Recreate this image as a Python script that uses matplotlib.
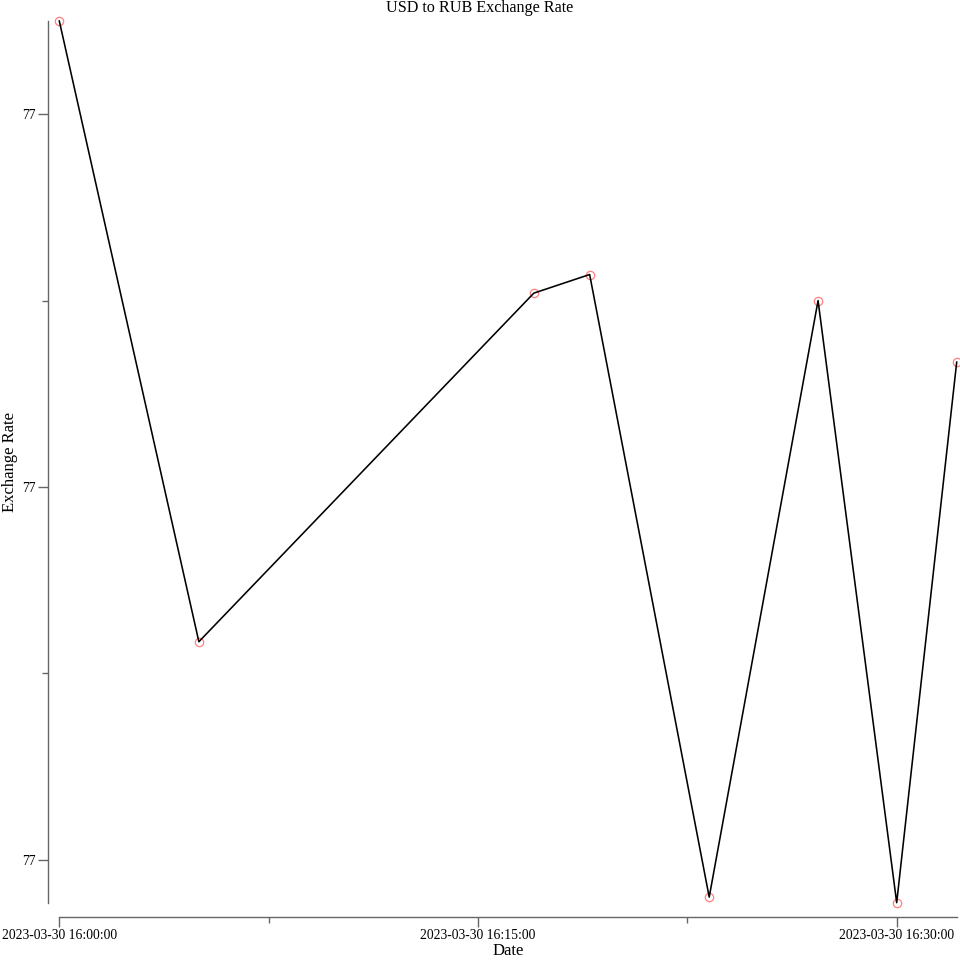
import matplotlib
matplotlib.use("Agg")
import matplotlib.pyplot as plt
import matplotlib.dates as mdates
from matplotlib.ticker import FixedLocator, FuncFormatter
import pandas as pd

times = ["2023-03-30 16:00:00", "2023-03-30 16:05:00", "2023-03-30 16:17:00",
         "2023-03-30 16:19:00", "2023-03-30 16:23:17", "2023-03-30 16:27:11",
         "2023-03-30 16:30:00", "2023-03-30 16:32:09"]
rates = [77.4250, 77.3917, 77.4104, 77.4114, 77.3780, 77.4100, 77.3777, 77.4067]
x_major = ["2023-03-30 16:00:00", "2023-03-30 16:15:00", "2023-03-30 16:30:00"]
x_minor = ["2023-03-30 16:07:30", "2023-03-30 16:22:30"]
y_major = [77.38, 77.40, 77.42]
y_minor = [77.39, 77.41]

plt.rcParams['font.family'] = ['Liberation Serif', 'DejaVu Serif']

t = pd.to_datetime(times)
fig = plt.figure(figsize=(9.6, 9.6), dpi=100)
ax = fig.add_axes([59.3/960, 1-902.7/960, (956.7-59.3)/960, (902.7-21)/960])

ax.plot(t, rates, color='black', lw=1.15, zorder=3, clip_on=False)
ax.plot(t, rates, linestyle='none', marker='o', markersize=6,
        markerfacecolor='none', markeredgecolor=(1, 0, 0, 0.5), markeredgewidth=0.9,
        zorder=2, clip_on=False)

ax.set_xlim(t.min(), t.max())
ax.set_ylim(min(rates), max(rates))

ax.xaxis.set_major_locator(FixedLocator(mdates.date2num(pd.to_datetime(x_major))))
ax.xaxis.set_minor_locator(FixedLocator(mdates.date2num(pd.to_datetime(x_minor))))
ax.xaxis.set_major_formatter(mdates.DateFormatter('%Y-%m-%d %H:%M:%S'))
ax.yaxis.set_major_locator(FixedLocator(y_major))
ax.yaxis.set_minor_locator(FixedLocator(y_minor))
ax.yaxis.set_major_formatter(FuncFormatter(lambda v, p: f"{v:.0f}"))

for s in ['top', 'right']:
    ax.spines[s].set_visible(False)
ax.spines['left'].set_position(('outward', 8))
ax.spines['bottom'].set_position(('outward', 10))
for s in ['left', 'bottom']:
    ax.spines[s].set_color('#666666')
    ax.spines[s].set_linewidth(1.0)

ax.tick_params(axis='both', which='major', length=7, width=1, color='#666666',
               labelsize=9.8, labelcolor='black', pad=2)
ax.tick_params(axis='both', which='minor', length=4, width=1, color='#666666')

ax.set_xlabel('Date', fontsize=12, labelpad=1)
ax.set_ylabel('Exchange Rate', fontsize=12, labelpad=3)
fig.text(0.5, 1-8/960, 'USD to RUB Exchange Rate', ha='center', va='center', fontsize=11.6)

fig.savefig('out.png', dpi=100)
